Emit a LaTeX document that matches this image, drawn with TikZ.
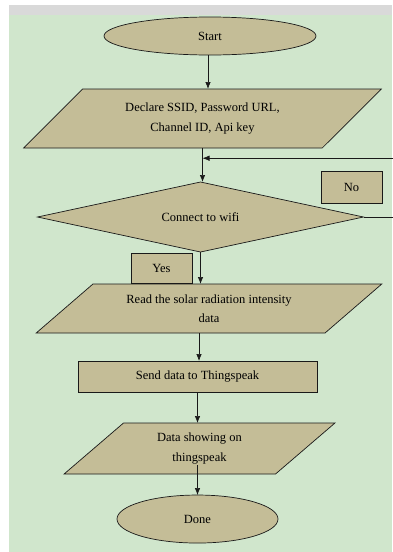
\documentclass[tikz,border=0pt]{standalone}
\usepackage{fontspec}
\setmainfont{Liberation Serif}
\usetikzlibrary{shapes.geometric,positioning,arrows.meta}
\definecolor{tanfill}{RGB}{196,189,151}
\definecolor{bggreen}{RGB}{208,230,204}
\definecolor{bandgray}{RGB}{217,217,217}
\begin{document}
\begin{tikzpicture}[x=1pt,y=-1pt,line width=0.7pt,
    every node/.style={outer sep=0pt,inner sep=0pt,font=\fontsize{12.5}{19.5}\selectfont},
    box/.style={draw=black!90,fill=tanfill},
    term/.style={box,ellipse},
    io/.style={box,trapezium,trapezium stretches=true,align=center},
    proc/.style={box,rectangle},
    test/.style={box,diamond},
    arr/.style={-{Latex[length=7pt,width=5.5pt]},black!90}]

    \useasboundingbox (0,0) rectangle (392,552);
    \fill[bandgray] (9,5) rectangle (392,15);
    \fill[bggreen] (9,15) rectangle (392,552);

    \node[term,minimum width=212pt,minimum height=38pt] (start) at (210,36) {Start};
    \node[io,trapezium left angle=39,trapezium right angle=141,minimum width=359pt,minimum height=59pt,below=34pt of start,xshift=-7.5pt] (decl) {Declare SSID, Password URL,\\Channel ID, Api key};
    \node[test,minimum width=326pt,minimum height=70pt,aspect=4.66,below=34pt of decl,xshift=-2pt] (wifi) {Connect to wifi};
    \node[io,trapezium left angle=35,trapezium right angle=145,minimum width=346pt,minimum height=49pt,below=32pt of wifi,xshift=8.5pt] (read) {Read the solar radiation intensity\\data};
    \node[proc,minimum width=239pt,minimum height=31pt,below=28pt of read,xshift=-11.5pt] (send) {Send data to Thingspeak};
    \node[io,trapezium left angle=43,trapezium right angle=137,minimum width=271pt,minimum height=51pt,below=31pt of send,xshift=2pt] (show) {Data showing on\\thingspeak};
    \node[term,minimum width=161pt,minimum height=48pt,below=21pt of show,xshift=-2pt] (done) {Done};
    \node[proc,minimum width=61pt,minimum height=30pt,below left=1pt and 8.5pt of wifi.south] (yes) {Yes};
    \node[proc,minimum width=61pt,minimum height=32pt] (no) at (351.5,187) {No};

    \draw[arr] ([xshift=-2pt]start.south) -- ([xshift=-2pt]start.south|-decl.north);
    \draw[arr] (decl.south) -- (decl.south|-wifi.north) coordinate[pos=0.3](join);
    \draw[arr] (wifi.east) -- ++(36,0) |- (join);
    \draw[arr] (wifi.south) -- (wifi.south|-read.north);
    \draw[arr] ([xshift=-10pt]read.south) -- ([xshift=-10pt]read.south|-send.north);
    \draw[arr] (send.south) -- (send.south|-show.north);
    \draw[arr] ([yshift=9pt]show.south-|done.north) -- (done.north);
\end{tikzpicture}
\end{document}
